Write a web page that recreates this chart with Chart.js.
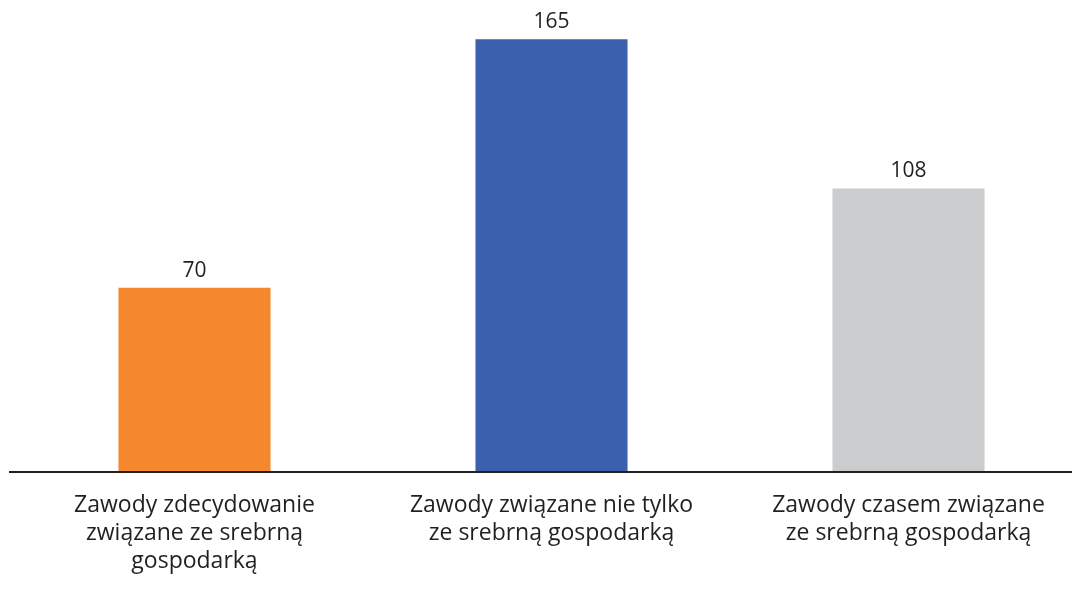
<!DOCTYPE html>
<html>
<head>
<meta charset="utf-8">
<script src="https://cdn.jsdelivr.net/npm/chart.js@4"></script>
<style>
	html, body { margin: 0; padding: 0; background: #fff; overflow: hidden; }
	#wrap { width: 1081px; height: 596px; overflow: hidden; }
	#box { width: 1088px; height: 596px; position: relative; }
</style>
</head>
<body>
<div id="wrap"><div id="box"><canvas id="chart"></canvas></div></div>
<script>
const categories = [
	['Zawody zdecydowanie', 'związane ze srebrną', 'gospodarką'],
	['Zawody związane nie tylko', 'ze srebrną gospodarką'],
	['Zawody czasem związane', 'ze srebrną gospodarką'],
]
const values = [70, 165, 108]
const barColors = ['#f5872f', '#3b60ad', '#cbcccd']

const TEXT_COLOR = '#231f20'
const FONT = '"Open Sans", "DejaVu Sans", sans-serif'

// values above each bar
const valueLabels = {
	id: 'valueLabels',
	afterDatasetsDraw(chart) {
		const ctx = chart.ctx
		const meta = chart.getDatasetMeta(0)
		ctx.save()
		ctx.fillStyle = TEXT_COLOR
		ctx.font = '21px ' + FONT
		ctx.textAlign = 'center'
		ctx.textBaseline = 'alphabetic'
		meta.data.forEach((bar, i) => {
			ctx.fillText(values[i], bar.x, bar.y - 11)
		})
		ctx.restore()
	},
}

// dark base line under the bars
const baseLine = {
	id: 'baseLine',
	afterDatasetsDraw(chart) {
		const ctx = chart.ctx
		const y = chart.scales.y.getPixelForValue(0) + 1
		ctx.save()
		ctx.strokeStyle = TEXT_COLOR
		ctx.lineWidth = 2
		ctx.beginPath()
		ctx.moveTo(9, y)
		ctx.lineTo(1072, y)
		ctx.stroke()
		ctx.restore()
	},
}

const options = {
	type: 'bar',
	data: {
		labels: categories,
		datasets: [
			{
				data: values,
				backgroundColor: barColors,
				borderWidth: 0,
				categoryPercentage: 1,
				barPercentage: 0.426,
			},
		],
	},
	options: {
		responsive: true,
		maintainAspectRatio: false,
		animation: false,
		layout: { padding: { left: 16, right: 1, top: 0, bottom: 1 } },
		plugins: {
			legend: { display: false },
			tooltip: { enabled: false },
		},
		scales: {
			x: {
				grid: { display: false, drawTicks: false },
				border: { display: false },
				ticks: {
					color: TEXT_COLOR,
					font: { family: FONT, size: 23, lineHeight: 1.217 },
					padding: 20,
					maxRotation: 0,
					autoSkip: false,
				},
			},
			y: {
				min: 0,
				max: 180,
				display: false,
			},
		},
	},
	plugins: [valueLabels, baseLine],
}

const ctx = document.getElementById('chart')
new Chart(ctx, options)
</script>
</body>
</html>
